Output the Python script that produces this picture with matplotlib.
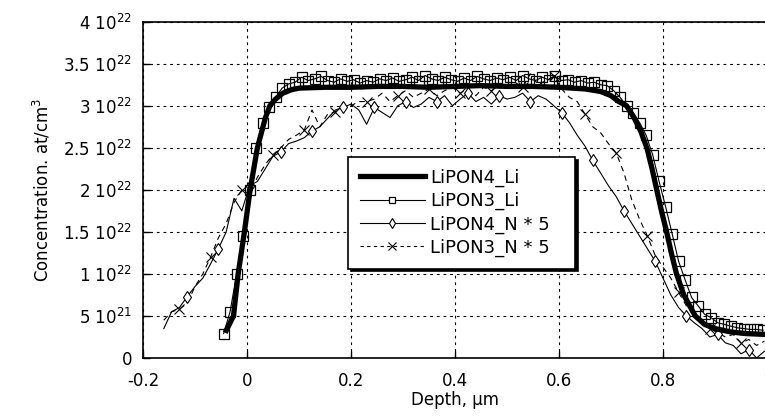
import matplotlib
matplotlib.use("Agg")
import matplotlib.pyplot as plt
from matplotlib.lines import Line2D

plt.rcParams['font.family'] = ['DejaVu Sans']
plt.rcParams['mathtext.default'] = 'regular'

# ---------------- data (concentration in units of 1e22 at/cm^3) ----------------
depth_li4 = [-0.042, -0.026, -0.017, -0.005, 0.006, 0.020, 0.035, 0.044, 0.055, 0.069,
             0.085, 0.100, 0.150, 0.200, 0.250, 0.300, 0.350, 0.400, 0.450, 0.500,
             0.550, 0.600, 0.650, 0.680, 0.700, 0.715, 0.730, 0.745, 0.757, 0.769,
             0.779, 0.788, 0.797, 0.807, 0.816, 0.826, 0.840, 0.862, 0.880, 0.900,
             0.930, 0.960, 1.000]
conc_li4 = [0.30, 0.50, 1.00, 1.50, 2.00, 2.50, 2.85, 3.00, 3.08, 3.15,
            3.19, 3.21, 3.22, 3.22, 3.23, 3.23, 3.22, 3.23, 3.24, 3.23,
            3.23, 3.22, 3.20, 3.17, 3.12, 3.05, 3.00, 2.85, 2.70, 2.50,
            2.25, 2.00, 1.75, 1.50, 1.25, 1.00, 0.75, 0.50, 0.40, 0.35,
            0.31, 0.29, 0.28]

depth_li3 = [-0.045, -0.0325, -0.020, -0.0075, 0.005, 0.0175, 0.030, 0.0425, 0.055, 0.0675,
             0.080, 0.0925, 0.105, 0.1175, 0.130, 0.1425, 0.155, 0.1675, 0.180, 0.1925,
             0.205, 0.2175, 0.230, 0.2425, 0.255, 0.2675, 0.280, 0.2925, 0.305, 0.3175,
             0.330, 0.3425, 0.355, 0.3675, 0.380, 0.3925, 0.405, 0.4175, 0.430, 0.4425,
             0.455, 0.4675, 0.480, 0.4925, 0.505, 0.5175, 0.530, 0.5425, 0.555, 0.5675,
             0.580, 0.5925, 0.605, 0.6175, 0.630, 0.6425, 0.655, 0.6675, 0.680, 0.6925,
             0.705, 0.7175, 0.730, 0.7425, 0.755, 0.7675, 0.780, 0.7925, 0.805, 0.8175,
             0.830, 0.8425, 0.855, 0.8675, 0.880, 0.8925, 0.905, 0.9175, 0.930, 0.9425,
             0.955, 0.9675, 0.980, 0.9925]
conc_li3 = [0.29, 0.55, 1.00, 1.45, 2.00, 2.50, 2.80, 2.98, 3.10, 3.21,
            3.26, 3.28, 3.34, 3.30, 3.32, 3.35, 3.30, 3.28, 3.32, 3.29,
            3.31, 3.27, 3.30, 3.28, 3.32, 3.30, 3.33, 3.29, 3.31, 3.34,
            3.30, 3.36, 3.32, 3.30, 3.34, 3.31, 3.29, 3.33, 3.30, 3.35,
            3.32, 3.30, 3.33, 3.31, 3.34, 3.30, 3.36, 3.32, 3.30, 3.34,
            3.31, 3.35, 3.30, 3.31, 3.28, 3.30, 3.27, 3.28, 3.25, 3.24,
            3.18, 3.10, 3.00, 2.92, 2.80, 2.65, 2.42, 2.10, 1.80, 1.48,
            1.15, 0.93, 0.72, 0.62, 0.52, 0.48, 0.42, 0.40, 0.38, 0.36,
            0.35, 0.34, 0.34, 0.33]

depth_n = [-0.160, -0.145, -0.130, -0.115, -0.100, -0.085, -0.070, -0.055, -0.040, -0.025,
           -0.010, 0.005, 0.020, 0.035, 0.050, 0.065, 0.080, 0.095, 0.110, 0.125,
           0.140, 0.155, 0.170, 0.185, 0.200, 0.215, 0.230, 0.245, 0.260, 0.275,
           0.290, 0.305, 0.320, 0.335, 0.350, 0.365, 0.380, 0.395, 0.410, 0.425,
           0.440, 0.455, 0.470, 0.485, 0.500, 0.515, 0.530, 0.545, 0.560, 0.575,
           0.590, 0.605, 0.620, 0.635, 0.650, 0.665, 0.680, 0.695, 0.710, 0.725,
           0.740, 0.755, 0.770, 0.785, 0.800, 0.815, 0.830, 0.845, 0.860, 0.875,
           0.890, 0.905, 0.920, 0.935, 0.950, 0.965, 0.980, 0.995]
conc_n4 = [0.35, 0.55, 0.60, 0.73, 0.85, 0.95, 1.12, 1.30, 1.50, 1.90,
           1.75, 2.05, 2.10, 2.25, 2.40, 2.45, 2.55, 2.58, 2.62, 2.70,
           2.75, 2.85, 2.95, 2.98, 3.02, 2.95, 2.78, 2.98, 2.92, 2.86,
           3.00, 3.05, 2.98, 3.02, 3.10, 3.05, 3.12, 3.00, 3.08, 3.15,
           3.05, 3.10, 3.02, 3.12, 3.08, 3.10, 3.15, 3.05, 3.12, 3.08,
           3.00, 2.92, 2.80, 2.65, 2.52, 2.35, 2.20, 2.05, 1.92, 1.75,
           1.60, 1.45, 1.30, 1.15, 0.95, 0.75, 0.60, 0.50, 0.42, 0.35,
           0.25, 0.28, 0.18, 0.15, 0.05, 0.10, 0.00, 0.08]
conc_n3 = [0.45, 0.55, 0.58, 0.65, 0.85, 1.00, 1.20, 1.43, 1.60, 1.85,
           2.00, 1.95, 2.15, 2.30, 2.42, 2.50, 2.60, 2.65, 2.71, 2.95,
           2.75, 2.90, 2.93, 2.98, 3.00, 3.05, 3.05, 3.08, 3.15, 3.05,
           3.12, 3.18, 3.10, 3.15, 3.20, 3.12, 3.18, 3.22, 3.15, 3.20,
           3.12, 3.22, 3.18, 3.25, 3.20, 3.28, 3.22, 3.38, 3.25, 3.30,
           3.35, 3.20, 3.10, 3.05, 2.90, 2.75, 2.68, 2.55, 2.44, 2.20,
           1.88, 1.65, 1.45, 1.22, 1.08, 0.95, 0.78, 0.62, 0.50, 0.42,
           0.35, 0.30, 0.25, 0.28, 0.18, 0.22, 0.15, 0.20]

series_labels = ["LiPON4_Li", "LiPON3_Li", "LiPON4_N * 5", "LiPON3_N * 5"]
x_ticks = [-0.2, 0, 0.2, 0.4, 0.6, 0.8, 1.0]
x_ticklabels = ["-0.2", "0", "0.2", "0.4", "0.6", "0.8", "1"]
y_ticks = [0, 0.5, 1.0, 1.5, 2.0, 2.5, 3.0, 3.5, 4.0]
y_ticklabels = ["0", "5 10$^{21}$", "1 10$^{22}$", "1.5 10$^{22}$", "2 10$^{22}$",
                "2.5 10$^{22}$", "3 10$^{22}$", "3.5 10$^{22}$", "4 10$^{22}$"]

# ---------------- figure ----------------
fig = plt.figure(figsize=(7.65, 4.18), dpi=100)
ax = fig.add_axes([143 / 765, 60 / 418, 624 / 765, 336.3 / 418])

ax.plot(depth_n, conc_n3, color='black', lw=0.8, ls=(0, (5, 4)),
        marker='x', ms=7, mew=0.8, markevery=(2, 4), label=series_labels[3], zorder=3)
ax.plot(depth_n, conc_n4, color='black', lw=0.8, ls='-',
        marker='d', ms=6, mew=0.8, mfc='white', markevery=(3, 4), label=series_labels[2], zorder=3)
ax.plot(depth_li4, conc_li4, color='black', lw=3.8, solid_capstyle='butt',
        label=series_labels[0], zorder=4)
ax.plot(depth_li3, conc_li3, color='black', lw=0.8, marker='s', ms=6.5, mew=0.9,
        mfc='none', label=series_labels[1], zorder=5)

ax.set_xlim(-0.2, 1.0)
ax.set_ylim(0, 4.0)
ax.set_xticks(x_ticks)
ax.set_xticklabels(x_ticklabels)
ax.set_yticks(y_ticks)
ax.set_yticklabels(y_ticklabels)
ax.tick_params(direction='in', length=5, width=1, labelsize=12, colors='black')
ax.tick_params(axis='y', pad=8)
ax.tick_params(axis='x', pad=10)

ax.grid(True, color='black', lw=0.8, ls=(0, (2.5, 3.5)))
ax.set_axisbelow(True)
for s in ax.spines.values():
    s.set_linewidth(1.2)
    s.set_color('black')

ax.set_xlabel("Depth, µm", fontsize=12, labelpad=1)
ax.set_ylabel("Concentration. at/cm$^3$", fontsize=12, labelpad=8)

h_li4 = Line2D([], [], color='black', lw=3.8)
h_li3 = Line2D([], [], color='black', lw=0.8, marker='s', ms=5, mew=0.9, mfc='white')
h_n4 = Line2D([], [], color='black', lw=0.8, marker='d', ms=5, mew=0.8, mfc='white')
h_n3 = Line2D([], [], color='black', lw=0.8, ls=(0, (3, 3)), marker='x', ms=6, mew=0.8)
leg = ax.legend([h_li4, h_li3, h_n4, h_n3], series_labels,
                loc='upper left', bbox_to_anchor=(0.3285, 0.247, 0.364, 0.351),
                mode='expand', borderaxespad=0, fontsize=13, handlelength=3.6,
                handletextpad=0.3, labelspacing=0.28, borderpad=0.65, fancybox=False,
                framealpha=1, edgecolor='black', shadow={'color': 'black', 'alpha': 1})
leg.get_frame().set_linewidth(1.2)
leg.set_zorder(10)

fig.savefig("out.png", dpi=100)
